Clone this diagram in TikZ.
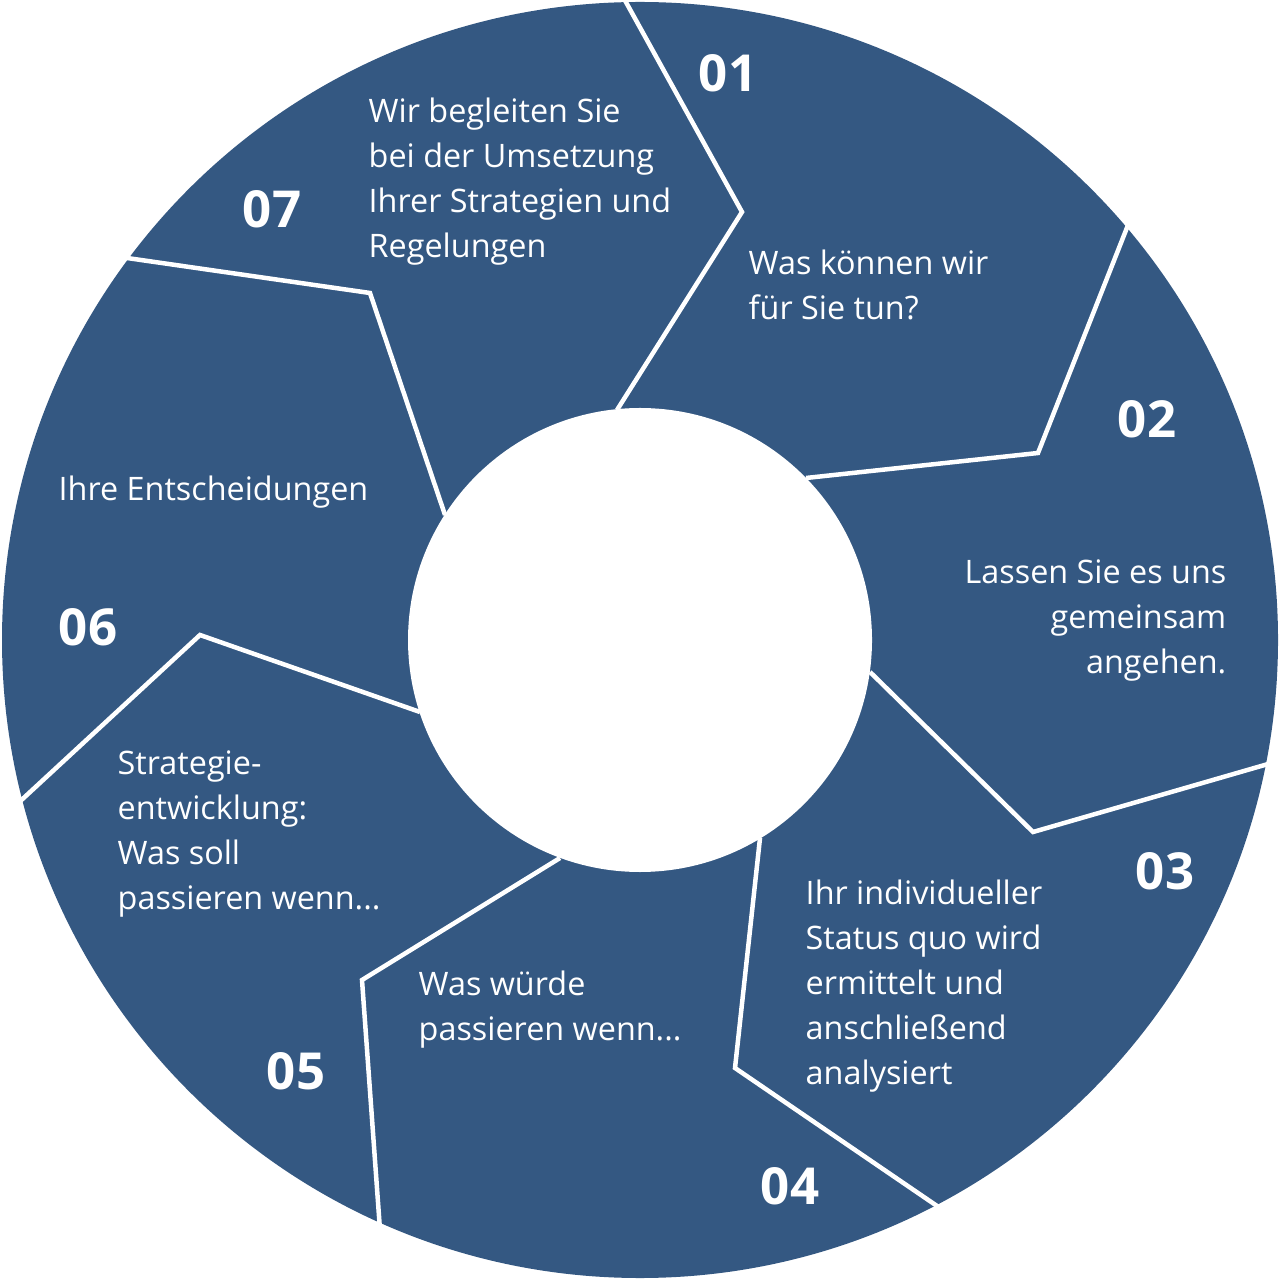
\documentclass[tikz,border=0pt]{standalone}
\usepackage{fontspec}
\setmainfont{Open Sans}
\definecolor{segblue}{HTML}{345882}
\begin{document}
\begin{tikzpicture}[x=0.01cm,y=-0.01cm,
  sep/.style={draw=white,line width=0.045cm,line join=miter},
  txt/.style={text=white,font=\fontsize{9.2pt}{12.8pt}\selectfont,anchor=north west,align=left,inner sep=0pt},
  txtr/.style={txt,anchor=north east,align=right},
  num/.style={text=white,font=\fontsize{14.5pt}{16pt}\selectfont\bfseries,inner sep=0pt}]
\useasboundingbox (0,0) rectangle (1280,1280);
\fill[segblue] (640,640) circle (638);
\draw[sep] (622,-5) -- (742,212) -- (617,410);
\draw[sep] (1130,220) -- (1038,453) -- (806,478);
\draw[sep] (1275,762) -- (1033,832) -- (870,672);
\draw[sep] (940,1208) -- (735,1068) -- (760,838);
\draw[sep] (380,1230) -- (362,980) -- (560,858);
\draw[sep] (15,806) -- (200,635) -- (420,712);
\draw[sep] (120,257) -- (370,293) -- (445,515);
\fill[white] (640,640) circle (232);
\node[num] (n1) at (728,73) {01};
\node[num] (n2) at (1147,419) {02};
\node[num] (n3) at (1165,871) {03};
\node[num] (n4) at (790,1186) {04};
\node[num] (n5) at (296,1071) {05};
\node[num] (n6) at (88,627) {06};
\node[num] (n7) at (272,209) {07};
\node[txt] (t7) at (368,97) {Wir begleiten Sie\\bei der Umsetzung\\Ihrer Strategien und\\Regelungen};
\node[txt] (t1) at (748,249) {Was können wir\\für Sie tun?};
\node[txtr] (t2) at (1227,559) {Lassen Sie es uns\\gemeinsam\\angehen.};
\node[txt] (t3) at (805,879) {Ihr individueller\\Status quo wird\\ermittelt und\\anschließend\\analysiert};
\node[txt] (t4) at (418,970) {Was würde\\passieren wenn...};
\node[txt] (t5) at (117,750) {Strategie-\\entwicklung:\\Was soll\\passieren wenn...};
\node[txt] (t6) at (58,475) {Ihre Entscheidungen};
\end{tikzpicture}
\end{document}
